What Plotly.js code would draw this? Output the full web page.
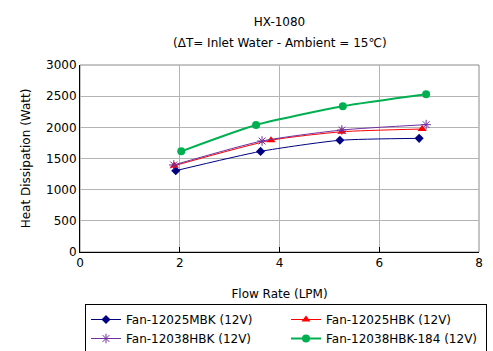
<!DOCTYPE html>
<html>
<head>
<meta charset="utf-8">
<script src="https://cdn.plot.ly/plotly-3.0.1.min.js"></script>
<style>html,body{margin:0;padding:0;background:#fff;}#chart{width:493px;height:351px;}</style>
</head>
<body>
<div id="chart"></div>
<script>
const seriesNames = ["Fan-12025MBK (12V)", "Fan-12025HBK (12V)", "Fan-12038HBK (12V)", "Fan-12038HBK-184 (12V)"];
const flowMBK = [1.92, 3.62, 5.21, 6.80];
const heatMBK = [1305, 1614, 1792, 1823];
const flowHBK = [1.89, 3.83, 5.25, 6.86];
const heatHBK = [1385, 1793, 1929, 1973];
const flow38 = [1.88, 3.65, 5.25, 6.94];
const heat38 = [1396, 1781, 1957, 2043];
const flow184 = [2.03, 3.53, 5.27, 6.94];
const heat184 = [1615, 2037, 2337, 2529];
const xTicks = [0, 2, 4, 6, 8];
const yTicks = [0, 500, 1000, 1500, 2000, 2500, 3000];
const titleLine1 = "HX-1080";
const titleLine2 = "(ΔT= Inlet Water - Ambient = 15℃)";

const FONT = "DejaVu Sans, sans-serif";

const traces = [
  {x: flowMBK, y: heatMBK, name: seriesNames[0], mode: "lines+markers",
   line: {color: "#000080", width: 1, shape: "spline", smoothing: 0.6},
   marker: {symbol: "diamond", size: 7, color: "#000080"}},
  {x: flowHBK, y: heatHBK, name: seriesNames[1], mode: "lines+markers",
   line: {color: "#FF0000", width: 1, shape: "spline", smoothing: 0.6},
   marker: {symbol: "triangle-up", size: 8, color: "#FF0000"}},
  {x: flow38, y: heat38, name: seriesNames[2], mode: "lines+markers",
   line: {color: "#7030A0", width: 1, shape: "spline", smoothing: 0.6},
   marker: {symbol: "asterisk-open", size: 8, color: "#7030A0", line: {color: "#7030A0", width: 1}}},
  {x: flow184, y: heat184, name: seriesNames[3], mode: "lines+markers",
   line: {color: "#00B050", width: 2, shape: "spline", smoothing: 0.6},
   marker: {symbol: "circle", size: 8, color: "#00B050"}}
];

const layout = {
  width: 493, height: 351,
  margin: {l: 80, r: 14, t: 65, b: 99},
  paper_bgcolor: "#fff", plot_bgcolor: "#fff",
  font: {family: FONT, size: 12, color: "#000"},
  title: {text: titleLine1, x: 0.5, xref: "paper", xanchor: "center",
          y: 1 - 22 / 351, yref: "container", yanchor: "middle",
          font: {family: FONT, size: 12, color: "#000"}},
  annotations: [{text: titleLine2, xref: "paper", yref: "paper", x: 0.5, xanchor: "center",
                 y: 1 + (65 - 43) / 187, yanchor: "middle", showarrow: false,
                 font: {family: FONT, size: 12, color: "#000"}}],
  xaxis: {range: [0, 8], tickvals: xTicks, ticktext: xTicks.map(String),
          showgrid: true, gridcolor: "#b4b4b4", gridwidth: 1,
          showline: true, linecolor: "#000", linewidth: 1,
          ticks: "inside", ticklen: 5, tickcolor: "#000",
          zeroline: false, fixedrange: true, automargin: false,
          title: {text: "Flow Rate (LPM)", font: {family: FONT, size: 12}, standoff: 20}},
  yaxis: {range: [0, 3000], tickvals: yTicks, ticktext: yTicks.map(String),
          showgrid: true, gridcolor: "#b4b4b4", gridwidth: 1,
          showline: true, linecolor: "#000", linewidth: 1,
          ticks: "", zeroline: false, fixedrange: true, automargin: false,
          title: {text: "Heat Dissipation (Watt)", font: {family: FONT, size: 12}, standoff: 12}},
  shapes: [{type: "rect", xref: "paper", yref: "paper", x0: 0, x1: 1, y0: 0, y1: 1,
            line: {color: "#8a8a8a", width: 1}, layer: "below"}],
  legend: {orientation: "h", xref: "container", yref: "container",
           x: 85 / 493, xanchor: "left", y: 1 - 304 / 351, yanchor: "top",
           bordercolor: "#000", borderwidth: 1, bgcolor: "#fff",
           entrywidth: 155, entrywidthmode: "pixels", itemwidth: 30,
           font: {family: FONT, size: 12}, tracegroupgap: 0},
  showlegend: true
};

Plotly.newPlot("chart", traces, layout, {displayModeBar: false, staticPlot: true});
</script>
</body>
</html>
